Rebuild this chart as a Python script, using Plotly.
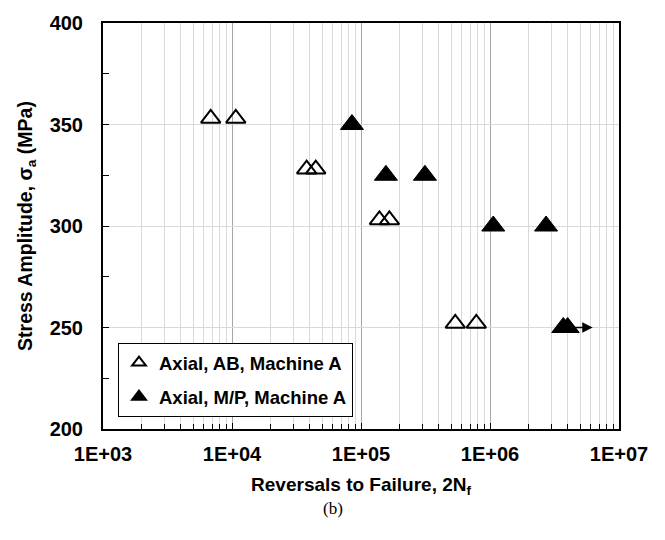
import math
import plotly.graph_objects as go

# ---- data ----
ab_cycles = [6840, 10700, 37900, 44600, 139000, 166000, 538000, 783000]
ab_stress = [353, 353, 328, 328, 303, 303, 252, 252]

mp_cycles = [85100, 156000, 313000, 1060000, 2720000, 3700000, 4000000]
mp_stress = [350, 325, 325, 300, 300, 250, 250]

runout_from = 4300000
runout_to = 6250000
runout_stress = 250

x_tickvals = [1e3, 1e4, 1e5, 1e6, 1e7]
x_ticktext = ["1E+03", "1E+04", "1E+05", "1E+06", "1E+07"]
y_tickvals = [200, 250, 300, 350, 400]

FONT = "Arial, Liberation Sans, sans-serif"

fig = go.Figure()
fig.add_trace(go.Scatter(
    x=ab_cycles, y=ab_stress, mode="markers", name="Axial, AB, Machine A",
    legendgroup="a",
    marker=dict(symbol="triangle-up-open", size=17, color="black",
                line=dict(color="black", width=2)),
))
fig.add_trace(go.Scatter(
    x=mp_cycles, y=mp_stress, mode="markers", name="Axial, M/P, Machine A",
    legendgroup="b",
    marker=dict(symbol="triangle-up", size=20, color="black",
                line=dict(color="black", width=1)),
))

# run-out arrow
fig.add_annotation(
    x=math.log10(runout_to), y=runout_stress,
    ax=math.log10(runout_from), ay=runout_stress,
    xref="x", yref="y", axref="x", ayref="y",
    showarrow=True, arrowhead=2, arrowsize=1.6, arrowwidth=1.3,
    arrowcolor="black", text="",
)

fig.add_annotation(
    x=(332.5 - 103) / 516, y=-0.197, xref="paper", yref="paper",
    text="(b)", showarrow=False,
    font=dict(family="Times New Roman, Liberation Serif, serif", size=17, color="black"),
    xanchor="center", yanchor="middle",
)

fig.update_xaxes(
    type="log", range=[3, 7],
    tickvals=x_tickvals, ticktext=x_ticktext,
    ticks="inside", ticklen=6, tickcolor="black", tickwidth=1,
    showgrid=True, gridcolor="#a6a6a6", gridwidth=1,
    minor=dict(dtick="D1", showgrid=True, gridcolor="#d9d9d9", gridwidth=1,
               ticks="inside", ticklen=5, tickcolor="black"),
    showline=True, linecolor="black", linewidth=2, mirror=True,
    zeroline=False,
    tickfont=dict(family=FONT, size=20, color="black", weight="bold"),
    ticklabelstandoff=6,
    title=dict(text="Reversals to Failure, 2N<sub>f</sub>", standoff=14,
               font=dict(family=FONT, size=19, color="black", weight="bold")),
)
fig.update_yaxes(
    range=[200, 400], tickvals=y_tickvals,
    ticks="inside", ticklen=6, tickcolor="black", tickwidth=1,
    showgrid=True, gridcolor="#d9d9d9", gridwidth=1,
    minor=dict(dtick=25, showgrid=False, ticks="inside", ticklen=6, tickcolor="black"),
    showline=True, linecolor="black", linewidth=2, mirror=True,
    zeroline=False,
    tickfont=dict(family=FONT, size=20, color="black", weight="bold"),
    ticklabelstandoff=14,
    title=dict(text="Stress Amplitude, σ<sub>a</sub> (MPa)", standoff=12,
               font=dict(family=FONT, size=19.5, color="black", weight="bold")),
)

fig.update_layout(
    width=665, height=540,
    margin=dict(l=103, r=46, t=18, b=111),
    plot_bgcolor="white", paper_bgcolor="white",
    showlegend=True,
    legend=dict(
        x=(118 - 103) / 516, y=(429 - 342) / 411, xanchor="left", yanchor="top",
        bgcolor="white", bordercolor="black", borderwidth=1,
        font=dict(family=FONT, size=18.5, color="black", weight="bold"),
        tracegroupgap=7, itemsizing="constant", itemwidth=30,
    ),
)

fig.write_html("out.html")
